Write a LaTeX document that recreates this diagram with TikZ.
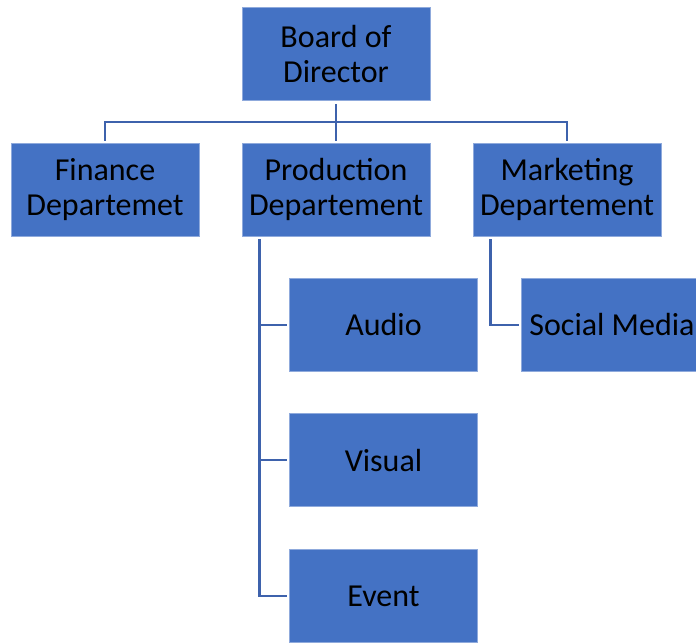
\documentclass[tikz,border=0pt]{standalone}
\usepackage{fontspec}
\setmainfont{Carlito}
\usepackage{xcolor}
\definecolor{boxblue}{HTML}{4472C4}
\definecolor{lineblue}{HTML}{3E62AC}
\tikzset{
  orgbox/.style={rectangle,fill=boxblue,draw=boxblue!60!white,line width=0.6pt,
    minimum width=188pt,minimum height=93pt,inner sep=0pt,
    align=center,font=\fontsize{32}{35}\selectfont,text=black},
  orgline/.style={draw=lineblue,line width=2.5pt,shorten >=2pt,shorten <=3pt}
}
\begin{document}
\begin{tikzpicture}[x=1pt,y=-1pt]
\clip (0,0) rectangle (696,643);
\node[orgbox] (board) at (336,54) {Board of\\Director};
\node[orgbox] (finance) at (105,189.5) {Finance\\Departemet};
\node[orgbox] (production) at (336,189.5) {Production\\Departement};
\node[orgbox] (marketing) at (567,189.5) {Marketing\\Departement};
\node[orgbox] (audio) at (383.5,325) {Audio};
\node[orgbox] (visual) at (383.5,460) {Visual};
\node[orgbox] (event) at (383.5,596) {Event};
\node[orgbox,minimum width=182pt] (social) at (612,325) {Social Media};
\coordinate (bus) at (336,122);
\coordinate (ptrunk) at ([xshift=18pt]production.south west);
\coordinate (mtrunk) at ([xshift=18pt]marketing.south west);
\draw[orgline,shorten >=0pt] (board.south) -- (bus);
\draw[orgline,shorten <=0pt] (bus) -- (production.north);
\draw[orgline,shorten <=0pt] (bus) -| (finance.north);
\draw[orgline,shorten <=0pt] (bus) -| (marketing.north);
\draw[orgline] (ptrunk) |- (audio.west);
\draw[orgline] (ptrunk) |- (visual.west);
\draw[orgline] (ptrunk) |- (event.west);
\draw[orgline] (mtrunk) |- (social.west);
\end{tikzpicture}
\end{document}
